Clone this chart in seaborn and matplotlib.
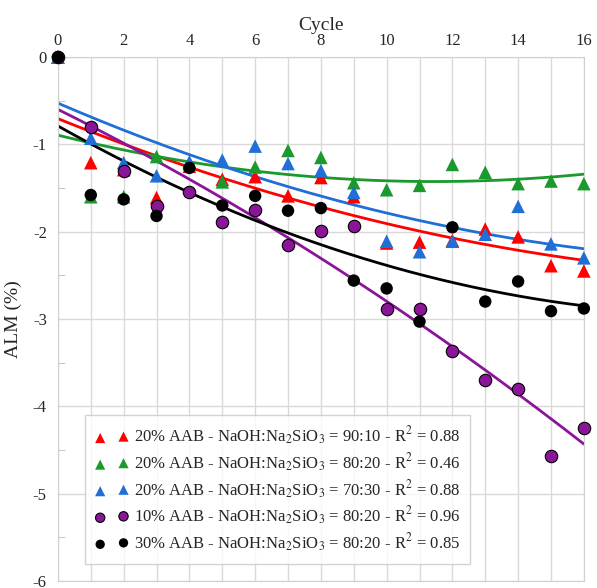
import numpy as np
import pandas as pd
import matplotlib
matplotlib.use("Agg")
import matplotlib.pyplot as plt
import seaborn as sns
from matplotlib.ticker import MultipleLocator

# Data (ALM in % per cycle)
cycles = list(range(17))
red_9010 = [0, -1.21, -1.29, -1.61, -1.25, -1.40, -1.37, -1.59, -1.38, -1.60,
            -2.13, -2.12, -2.10, -1.97, -2.06, -2.39, -2.45]
green_8020 = [0, -1.60, -1.60, -1.14, -1.22, -1.43, -1.26, -1.07, -1.15, -1.44,
              -1.52, -1.47, -1.23, -1.32, -1.45, -1.42, -1.45]
blue_7030 = [0, -0.93, -1.21, -1.36, -1.20, -1.18, -1.02, -1.22, -1.30, -1.55,
             -2.11, -2.23, -2.11, -2.03, -1.71, -2.14, -2.30]
purple_10 = [0, -0.80, -1.30, -1.71, -1.54, -1.89, -1.75, -2.15, -1.99, -1.93,
             -2.89, -2.89, -3.37, -3.70, -3.80, -4.57, -4.25]
black_30 = [0, -1.58, -1.63, -1.82, -1.27, -1.70, -1.59, -1.76, -1.73, -2.56,
            -2.65, -3.03, -1.95, -2.80, -2.57, -2.91, -2.88]

labels = [
    r"20% AAB - NaOH:Na$_2$SiO$_3$ = 90:10 - R$^2$ = 0.88",
    r"20% AAB - NaOH:Na$_2$SiO$_3$ = 80:20 - R$^2$ = 0.46",
    r"20% AAB - NaOH:Na$_2$SiO$_3$ = 70:30 - R$^2$ = 0.88",
    r"10% AAB - NaOH:Na$_2$SiO$_3$ = 80:20 - R$^2$ = 0.96",
    r"30% AAB - NaOH:Na$_2$SiO$_3$ = 80:20 - R$^2$ = 0.85",
]
series = [red_9010, green_8020, blue_7030, purple_10, black_30]
colors = ["#ff0000", "#1a9a2c", "#1f6fd6", "#8b1598", "#000000"]
markers = ["^", "^", "^", "o", "o"]
edges = ["none", "none", "none", "#000000", "none"]

sns.set_style("white")
plt.rcParams["font.family"] = ["Liberation Serif", "DejaVu Serif"]
plt.rcParams["mathtext.fontset"] = "stix"
plt.rcParams["axes.unicode_minus"] = False

fig = plt.figure(figsize=(5.97, 5.88), dpi=100)
ax = fig.add_axes([0.097, 0.012, 0.881, 0.891])

x = np.array(cycles)
handles = []
for vals, lab, c, m, ec in zip(series, labels, colors, markers, edges):
    y = np.array(vals)
    # trend line (2nd order polynomial fit over all cycles)
    coef = np.polyfit(x, y, 2)
    xs = np.linspace(0, 16, 200)
    ax.plot(xs, np.polyval(coef, xs), color=c, lw=2, zorder=2)
    df = pd.DataFrame({"Cycle": x, "ALM": y})
    sns.scatterplot(data=df, x="Cycle", y="ALM", ax=ax, color=c, marker=m,
                    s=80 if m == "o" else 95, edgecolor=ec, linewidth=0.8,
                    zorder=3, clip_on=False)
    handles.append(ax.collections[-1])

ax.set_xlim(0, 16)
ax.set_ylim(-6, 0)
ax.xaxis.tick_top()
ax.xaxis.set_label_position("top")
ax.xaxis.set_major_locator(MultipleLocator(2))
ax.xaxis.set_minor_locator(MultipleLocator(1))
ax.yaxis.set_major_locator(MultipleLocator(1))
ax.yaxis.set_minor_locator(MultipleLocator(0.5))
ax.grid(which="major", color="#d9d9d9", lw=1)
ax.grid(which="minor", axis="x", color="#d9d9d9", lw=1)
ax.tick_params(axis="x", which="both", length=0, labelsize=12, pad=6)
ax.tick_params(axis="y", which="major", length=0, labelsize=12, pad=8)
ax.tick_params(axis="y", which="minor", length=5, direction="in",
               color="#bfbfbf", left=True)
for sp in ax.spines.values():
    sp.set_color("#d0d0d0")
ax.set_xlabel("Cycle", fontsize=14, labelpad=2)
ax.set_ylabel("ALM (%)", fontsize=14, labelpad=8)

leg = ax.legend(handles, labels, loc="lower left", bbox_to_anchor=(0.036, 0.017),
                scatterpoints=2, markerscale=0.75, fontsize=12, frameon=True,
                fancybox=False, edgecolor="#c8c8c8", handletextpad=0.3,
                labelspacing=0.25, borderpad=0.6, handlelength=2.0)
leg.get_frame().set_linewidth(1)

fig.savefig("out.png", dpi=100)
